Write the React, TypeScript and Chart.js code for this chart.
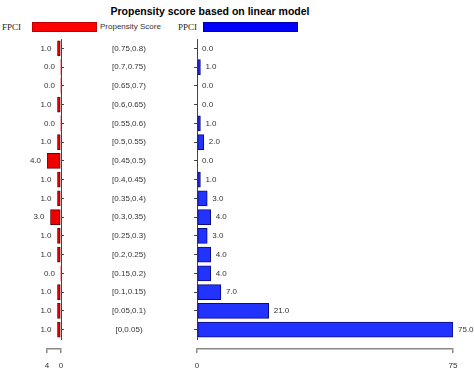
import { useEffect, useRef } from 'react';
import { Chart, registerables } from 'chart.js';

Chart.register(...registerables);

const categories = [
  '[0.75,0.8)', '[0.7,0.75)', '[0.65,0.7)', '[0.6,0.65)', '[0.55,0.6)', '[0.5,0.55)',
  '[0.45,0.5)', '[0.4,0.45)', '[0.35,0.4)', '[0.3,0.35)', '[0.25,0.3)', '[0.2,0.25)',
  '[0.15,0.2)', '[0.1,0.15)', '[0.05,0.1)', '[0,0.05)',
];
const fpciValues = [1, 0, 0, 1, 0, 1, 4, 1, 1, 3, 1, 1, 0, 1, 1, 1];
const ppciValues = [0, 1, 0, 0, 1, 2, 0, 1, 3, 4, 3, 4, 4, 7, 21, 75];
const fpciTicks = [0, 4];
const ppciTicks = [0, 75];

const SANS = '"Liberation Sans", Arial, sans-serif';
const SERIF = '"Liberation Serif", "Times New Roman", serif';

const valueLabels = (side: 'left' | 'right') => ({
  id: 'valueLabels' + side,
  afterDatasetsDraw(chart: any) {
    const ctx = chart.ctx;
    const meta = chart.getDatasetMeta(0);
    const data = chart.data.datasets[0].data as number[];
    ctx.save();
    ctx.font = `8px ${SANS}`;
    ctx.fillStyle = '#333';
    ctx.textBaseline = 'middle';
    meta.data.forEach((el: any, i: number) => {
      const txt = data[i].toFixed(1);
      if (side === 'left') {
        ctx.textAlign = 'right';
        ctx.fillText(txt, el.x - 6, el.y);
      } else {
        ctx.textAlign = 'left';
        ctx.fillText(txt, el.x + 5, el.y);
      }
    });
    ctx.restore();
  },
});

const categoryLabels = {
  id: 'categoryLabels',
  afterDraw(chart: any) {
    const ctx = chart.ctx;
    const y = chart.scales.y;
    ctx.save();
    ctx.font = `8px ${SANS}`;
    ctx.fillStyle = '#333';
    ctx.textAlign = 'center';
    ctx.textBaseline = 'middle';
    categories.forEach((c, i) => {
      ctx.fillText(c, 39, y.getPixelForValue(i));
    });
    ctx.restore();
  },
};

function makeOptions(left: boolean): any {
  const ticksArr = left ? fpciTicks : ppciTicks;
  return {
    indexAxis: 'y',
    responsive: false,
    animation: false,
    events: [],
    layout: {
      padding: left
        ? { left: 47, right: 25, top: 39, bottom: 0 }
        : { left: 103, right: 21, top: 39, bottom: 0 },
    },
    plugins: { legend: { display: false }, tooltip: { enabled: false }, title: { display: false } },
    scales: {
      x: {
        type: 'linear',
        position: 'bottom',
        weight: 1,
        reverse: left,
        min: ticksArr[0],
        max: ticksArr[ticksArr.length - 1],
        afterBuildTicks: (s: any) => { s.ticks = ticksArr.map((v) => ({ value: v })); },
        ticks: { font: { family: SANS, size: 8 }, color: '#333', padding: 8, maxRotation: 0, autoSkip: false },
        grid: { display: true, drawOnChartArea: false, drawTicks: true, tickLength: 4, color: '#888', lineWidth: 1.5 },
        border: { display: true, color: '#888', width: 1.5 },
        afterFit: (s: any) => { s.height = 30; },
      },
      y: {
        type: 'category',
        position: left ? 'right' : 'left',
        offset: true,
        ticks: { display: false },
        grid: { display: true, drawOnChartArea: false, drawTicks: true, tickLength: 3, offset: false, color: '#444', lineWidth: 1 },
        border: { display: true, color: '#444', width: 1 },
        afterFit: (s: any) => { s.width = 4; },
      },
      xs: {
        type: 'linear',
        position: 'bottom',
        weight: 0,
        display: true,
        min: 0,
        max: 1,
        ticks: { display: false },
        grid: { display: false },
        border: { display: false },
        afterFit: (s: any) => { s.height = 10; },
      },
    },
  };
}

export default function App() {
  const leftRef = useRef<HTMLCanvasElement>(null);
  const rightRef = useRef<HTMLCanvasElement>(null);

  useEffect(() => {
    const left = new Chart(leftRef.current!, {
      type: 'bar',
      data: {
        labels: categories,
        datasets: [{
          label: 'FPCI',
          data: fpciValues,
          xAxisID: 'x',
          yAxisID: 'y',
          backgroundColor: '#ee0000',
          borderColor: '#6a0000',
          borderWidth: (c: any) => (c.raw === 0 ? 0 : 1),
          borderSkipped: false,
          barThickness: 15,
        }],
      },
      options: makeOptions(true),
      plugins: [valueLabels('left')],
    } as any);
    const right = new Chart(rightRef.current!, {
      type: 'bar',
      data: {
        labels: categories,
        datasets: [{
          label: 'PPCI',
          data: ppciValues,
          xAxisID: 'x',
          yAxisID: 'y',
          backgroundColor: '#2233ff',
          borderColor: '#0a0a80',
          borderWidth: (c: any) => (c.raw === 0 ? 0 : 1),
          borderSkipped: false,
          barThickness: 15,
        }],
      },
      options: makeOptions(false),
      plugins: [valueLabels('right'), categoryLabels],
    } as any);
    return () => {
      left.destroy();
      right.destroy();
    };
  }, []);

  const abs = (o: any) => ({ position: 'absolute', whiteSpace: 'nowrap', ...o });

  return (
    <div style={{ position: 'absolute', left: 0, top: 0, width: 474, height: 379, background: '#fff', overflow: 'hidden' }}>
      <div style={abs({ left: 210, top: 4, transform: 'translateX(-50%)', font: `bold 10.5px ${SANS}`, lineHeight: '14px', color: '#000' })}>
        Propensity score based on linear model
      </div>
      <div style={abs({ left: 2, top: 21, font: `9px ${SERIF}`, lineHeight: '12px', color: '#222' })}>FPCI</div>
      <div style={abs({ left: 32, top: 22, width: 65, height: 10, boxSizing: 'border-box', background: '#ff0000', border: '1px solid #c00000' })} />
      <div style={abs({ left: 100, top: 21, font: `8px ${SANS}`, lineHeight: '12px', color: '#333' })}>Propensity Score</div>
      <div style={abs({ left: 178, top: 21, font: `9px ${SERIF}`, lineHeight: '12px', color: '#222' })}>PPCI</div>
      <div style={abs({ left: 203, top: 22, width: 95, height: 10, boxSizing: 'border-box', background: '#0000ff', border: '1px solid #0000aa' })} />
      <canvas ref={leftRef} width={90} height={379} style={{ position: 'absolute', left: 0, top: 0 }} />
      <canvas ref={rightRef} width={384} height={379} style={{ position: 'absolute', left: 90, top: 0 }} />
    </div>
  );
}
